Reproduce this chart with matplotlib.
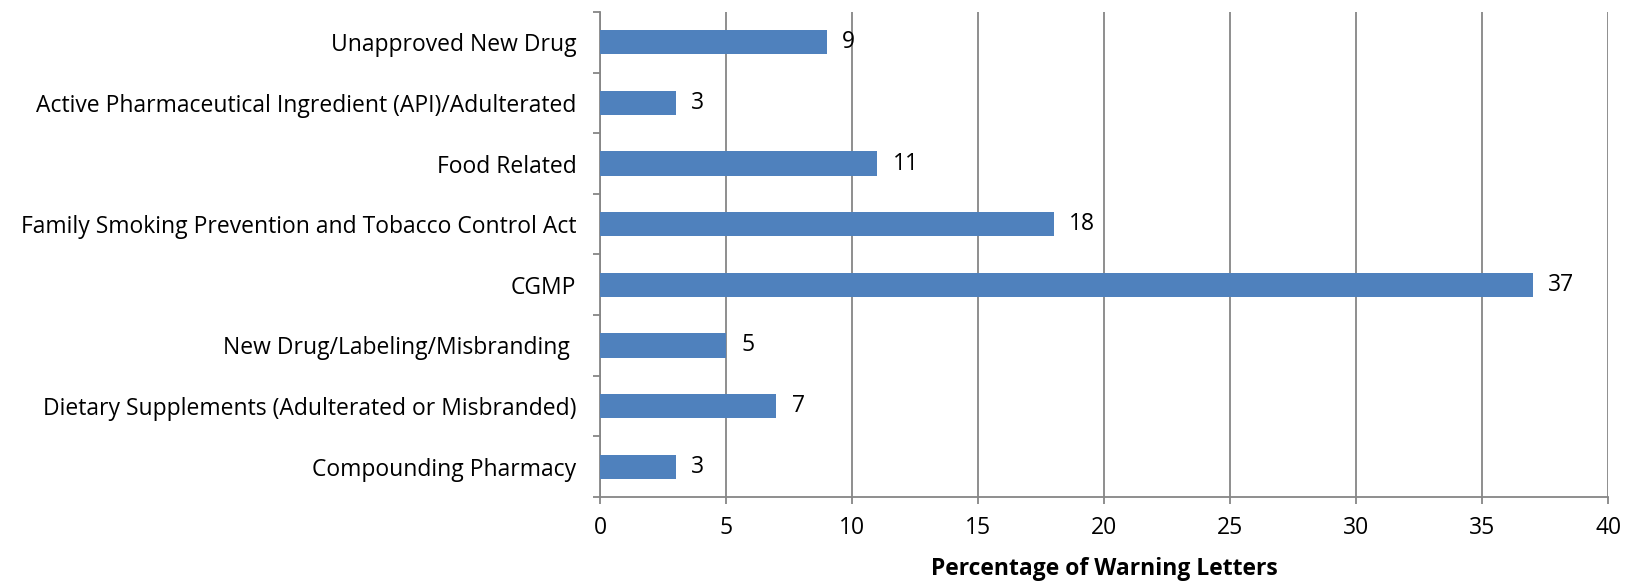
import numpy as np
import matplotlib
matplotlib.use("Agg")
import matplotlib.pyplot as plt

# warning letter categories, top to bottom
categories = [
    "Unapproved New Drug",
    "Active Pharmaceutical Ingredient (API)/Adulterated",
    "Food Related",
    "Family Smoking Prevention and Tobacco Control Act",
    "CGMP",
    "New Drug/Labeling/Misbranding ",
    "Dietary Supplements (Adulterated or Misbranded)",
    "Compounding Pharmacy",
]
percentages = [9, 3, 11, 18, 37, 5, 7, 3]
x_ticks = [0, 5, 10, 15, 20, 25, 30, 35, 40]

BAR_COLOR = "#4F81BD"
GRID_COLOR = "#868686"
FS = 16.5

plt.rcParams["font.family"] = ["Open Sans", "DejaVu Sans"]

fig = plt.figure(figsize=(16.25, 5.84), dpi=100)
ax = fig.add_axes([0.3692, 0.149, 0.6205, 0.8305])

n = len(categories)
ypos = np.arange(n)[::-1]
ax.barh(ypos, percentages, height=0.4, color=BAR_COLOR, zorder=3)

for y, v in zip(ypos, percentages):
    ax.annotate(str(v), (v, y), xytext=(11, 0), textcoords="offset points",
                ha="left", va="center", fontsize=FS, color="black")

ax.set_xlim(0, 40)
ax.set_ylim(-0.5, n - 0.5)
ax.set_xticks(x_ticks)
ax.set_xticklabels([str(t) for t in x_ticks], fontsize=FS)

# category boundaries get the tick marks, labels sit at the centres
ax.set_yticks(np.arange(-0.5, n, 1.0))
ax.set_yticklabels([])
ax.set_yticks(ypos, minor=True)
ax.set_yticklabels(categories, minor=True, fontsize=FS)
ax.tick_params(axis="y", which="minor", length=0, pad=17)
ax.tick_params(axis="y", which="major", length=5, color=GRID_COLOR, width=1.3)
ax.tick_params(axis="x", length=5, color=GRID_COLOR, width=1.3, pad=9)

ax.grid(axis="x", color=GRID_COLOR, linewidth=1.3, zorder=0)
for side in ["top", "right"]:
    ax.spines[side].set_visible(False)
for side in ["left", "bottom"]:
    ax.spines[side].set_color(GRID_COLOR)
    ax.spines[side].set_linewidth(1.3)

ax.set_xlabel("Percentage of Warning Letters", fontsize=FS, fontweight="bold",
              labelpad=12)

fig.savefig("out.png", dpi=100)
